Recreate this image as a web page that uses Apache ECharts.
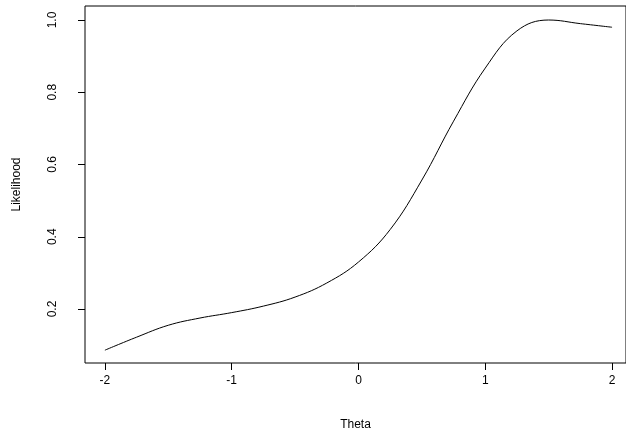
<!DOCTYPE html>
<html><head><meta charset="utf-8">
<script src="https://cdn.jsdelivr.net/npm/echarts@6/dist/echarts.min.js"></script>
<style>html,body{margin:0;padding:0;background:#fff}#container{width:626px;height:436px}</style>
</head><body><div id="container"></div>
<script>
var theta = [-2, -1.75, -1.5, -1.25, -1, -0.75, -0.5, -0.25, 0, 0.25, 0.5, 0.75, 1, 1.25, 1.5, 1.75, 2];
var likelihood = [0.086, 0.122, 0.155, 0.175, 0.19, 0.208, 0.233, 0.272, 0.33, 0.42, 0.557, 0.72, 0.867, 0.97, 1.0, 0.99, 0.98];
var xTicks = [-2, -1, 0, 1, 2];
var yTicks = [0.2, 0.4, 0.6, 0.8, 1.0];

var myChart = echarts.init(document.getElementById("container"));
var font = 'Liberation Sans, Arial, sans-serif';
myChart.setOption({
    animation: false,
    grid: { left: 85, right: -1, top: 6, bottom: 73, show: true, borderColor: '#000', borderWidth: 1 },
    xAxis: {
        type: 'value', min: -2.157, max: 2.11,
        name: 'Theta', nameLocation: 'middle', nameGap: 56,
        nameTextStyle: { fontFamily: font, fontSize: 12, color: '#000' },
        axisLine: { show: false, onZero: false },
        axisTick: { show: true, length: 7, lineStyle: { color: '#000' },
            customValues: xTicks },
        axisLabel: { fontFamily: font, fontSize: 12, color: '#000', margin: 12,
            customValues: xTicks },
        splitLine: { show: false }
    },
    yAxis: {
        type: 'value', min: 0.0505, max: 1.0388,
        name: 'Likelihood', nameLocation: 'middle', nameGap: 62, nameRotate: 90,
        nameTextStyle: { fontFamily: font, fontSize: 12, color: '#000' },
        axisLine: { show: false, onZero: false },
        axisTick: { show: true, length: 7, lineStyle: { color: '#000' },
            customValues: yTicks },
        axisLabel: { fontFamily: font, fontSize: 12, color: '#000', rotate: 90, margin: 26,
            customValues: yTicks, formatter: function (v) { return v.toFixed(1); } },
        splitLine: { show: false }
    },
    series: [{
        type: 'line', smooth: 0.4, showSymbol: false,
        lineStyle: { color: '#000', width: 1 },
        data: theta.map(function (t, i) { return [t, likelihood[i]]; })
    }]
});
</script></body></html>
